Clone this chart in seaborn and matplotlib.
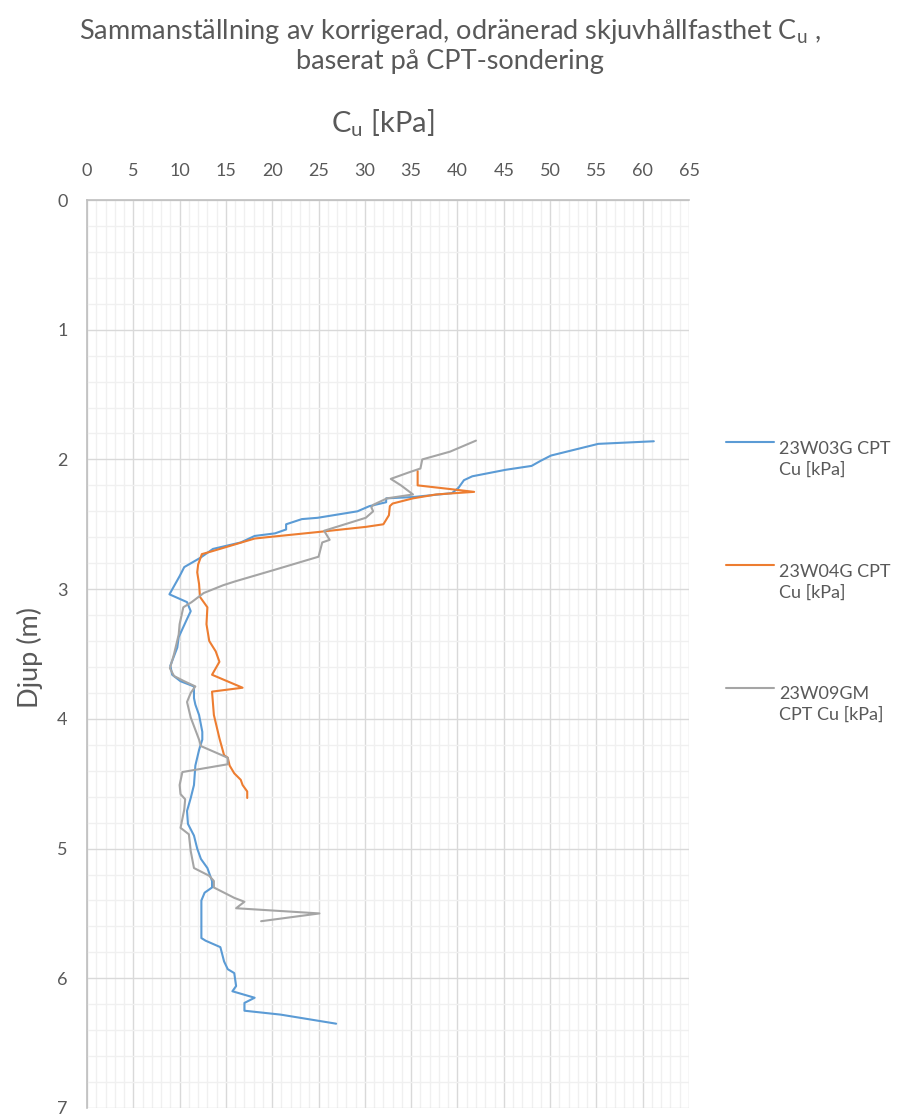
import numpy as np
import pandas as pd
import matplotlib
matplotlib.use("Agg")
import matplotlib.pyplot as plt
import seaborn as sns
from matplotlib.ticker import MultipleLocator
from matplotlib.lines import Line2D
from matplotlib.legend_handler import HandlerLine2D

# ---- data ----
w03_cu = [61.2, 55.2, 51.8, 50.1, 49.0, 48.0, 45.2, 41.6, 40.7, 40.1, 39.4, 35.2, 32.3, 32.3,
          30.5, 29.2, 24.9, 23.2, 21.5, 21.5, 20.3, 18.1, 16.6, 13.6, 12.2, 10.5, 10.0, 8.9,
          10.8, 11.2, 10.8, 9.9, 9.75, 9.0, 9.2, 10.1, 11.55, 11.55, 11.7, 12.1, 12.45, 12.45,
          12.1, 11.7, 11.55, 11.2, 10.8, 10.9, 11.55, 11.9, 12.3, 13.0, 13.5, 13.5, 12.7,
          12.35, 12.35, 12.8, 14.4, 14.8, 15.2, 15.9, 16.1, 15.7, 18.1, 17.0, 17.0, 20.9, 26.9]
w03_depth = [1.86, 1.88, 1.94, 1.97, 2.01, 2.05, 2.08, 2.13, 2.16, 2.22, 2.26, 2.29, 2.30, 2.33,
             2.36, 2.40, 2.45, 2.46, 2.50, 2.54, 2.57, 2.59, 2.64, 2.69, 2.76, 2.83, 2.90, 3.04,
             3.10, 3.17, 3.23, 3.37, 3.45, 3.59, 3.66, 3.71, 3.75, 3.84, 3.89, 3.97, 4.10, 4.16,
             4.24, 4.36, 4.51, 4.61, 4.71, 4.81, 4.90, 5.00, 5.08, 5.15, 5.25, 5.30, 5.34,
             5.40, 5.69, 5.71, 5.76, 5.87, 5.93, 5.96, 6.06, 6.10, 6.15, 6.19, 6.25, 6.28, 6.35]

w04_cu = [35.7, 35.7, 39.4, 41.8, 37.7, 35.2, 33.0, 32.7, 32.6, 32.0, 30.1, 24.9, 19.4, 18.1,
          13.4, 12.4, 12.0, 11.9, 12.1, 12.2, 13.0, 12.9, 13.2, 13.9, 14.3, 13.5, 16.8, 13.5,
          13.7, 14.3, 14.8, 15.2, 15.4, 15.9, 16.6, 16.8, 17.3, 17.3]
w04_depth = [2.09, 2.20, 2.23, 2.25, 2.27, 2.30, 2.34, 2.36, 2.43, 2.50, 2.52, 2.56, 2.60, 2.61,
             2.71, 2.73, 2.81, 2.87, 2.96, 3.06, 3.14, 3.27, 3.40, 3.48, 3.56, 3.66, 3.76, 3.79,
             3.97, 4.15, 4.28, 4.30, 4.36, 4.42, 4.47, 4.51, 4.56, 4.61]

w09_cu = [42.0, 39.2, 37.7, 36.2, 36.0, 34.75, 32.8, 33.9, 35.2, 32.4, 30.9, 30.7, 30.9, 30.1,
          25.6, 26.2, 25.4, 25.0, 20.3, 16.0, 14.7, 12.6, 11.3, 10.4, 10.0, 9.9, 9.4, 8.95,
          9.4, 10.5, 11.7, 11.2, 10.8, 11.2, 12.1, 12.3, 15.2, 15.2, 10.3, 10.0, 10.1, 10.6,
          10.5, 10.1, 11.0, 11.2, 11.55, 13.2, 13.7, 13.7, 15.9, 17.0, 16.1, 25.1, 18.8]
w09_depth = [1.855, 1.94, 1.97, 2.00, 2.07, 2.10, 2.15, 2.20, 2.27, 2.30, 2.35, 2.37, 2.40, 2.45,
             2.55, 2.62, 2.64, 2.75, 2.85, 2.94, 2.97, 3.03, 3.10, 3.14, 3.27, 3.35, 3.50, 3.61,
             3.67, 3.71, 3.75, 3.80, 3.87, 3.99, 4.16, 4.21, 4.30, 4.35, 4.41, 4.51, 4.58, 4.62,
             4.70, 4.84, 4.89, 5.02, 5.15, 5.21, 5.25, 5.30, 5.38, 5.41, 5.46, 5.50, 5.56]

series_names = ["23W03G CPT\nCu [kPa]", "23W04G CPT\nCu [kPa]", "23W09GM\nCPT Cu [kPa]"]
colors = ["#5B9BD5", "#ED7D31", "#A5A5A5"]

title_text = "Sammanställning av korrigerad, odränerad skjuvhållfasthet C$_\\mathregular{u}$ ,\nbaserat på CPT-sondering"
xlabel_text = "C$_\\mathregular{u}$ [kPa]"
ylabel_text = "Djup (m)"

df = pd.concat([
    pd.DataFrame({"cu": w03_cu, "depth": w03_depth, "series": series_names[0]}),
    pd.DataFrame({"cu": w04_cu, "depth": w04_depth, "series": series_names[1]}),
    pd.DataFrame({"cu": w09_cu, "depth": w09_depth, "series": series_names[2]}),
], ignore_index=True)

sns.set_style("white")
plt.rcParams["font.family"] = ["Lato", "DejaVu Sans"]
plt.rcParams["mathtext.fontset"] = "custom"
plt.rcParams["mathtext.rm"] = "Lato"

TXT = "#595959"
fig = plt.figure(figsize=(9.02, 11.19), dpi=100)
ax = fig.add_axes([87/902, 1 - 1108/1119, (689-87)/902, (1108-200)/1119])

sns.lineplot(data=df, x="cu", y="depth", hue="series", palette=colors, sort=False,
             estimator=None, ax=ax, linewidth=1.5, legend=False)

ax.set_xlim(0, 65)
ax.set_ylim(7, 0)
ax.xaxis.set_major_locator(MultipleLocator(5))
ax.xaxis.set_minor_locator(MultipleLocator(1))
ax.yaxis.set_major_locator(MultipleLocator(1))
ax.yaxis.set_minor_locator(MultipleLocator(0.2))
ax.grid(True, which="minor", color="#F0F0F0", linewidth=1.0, zorder=0)
ax.grid(True, which="major", color="#D9D9D9", linewidth=1.0, zorder=0)
ax.set_axisbelow(True)
ax.xaxis.tick_top()
ax.xaxis.set_label_position("top")
ax.tick_params(axis="both", which="both", length=0, labelsize=13, labelcolor=TXT)
ax.tick_params(axis="x", pad=15)
ax.tick_params(axis="y", pad=14)
for s in ["right", "bottom"]:
    ax.spines[s].set_visible(False)
for s in ["left", "top"]:
    ax.spines[s].set_color("#BFBFBF")
    ax.spines[s].set_linewidth(1.2)

ax.set_xlabel(xlabel_text, fontsize=21, color=TXT)
ax.set_ylabel(ylabel_text, fontsize=19.5, color=TXT)
ax.xaxis.set_label_coords((383-87)/(689-87), 1 + (200-123)/908)
ax.yaxis.set_label_coords(-(87-30)/602, (1108-657)/908)
ax.xaxis.label.set_va("center")
ax.yaxis.label.set_va("center")

fig.text(450/902, 1 - 45/1119, title_text, ha="center", va="center", fontsize=19.5,
         color=TXT, linespacing=1.15)


class FirstLineHandler(HandlerLine2D):
    def create_artists(self, legend, orig_handle, xdescent, ydescent, width, height,
                       fontsize, trans):
        arts = super().create_artists(legend, orig_handle, xdescent, ydescent, width,
                                      height, fontsize, trans)
        for a in arts:
            a.set_ydata(np.asarray(a.get_ydata()) + 0.95 * fontsize)
        return arts


handles = [Line2D([], [], color=c, linewidth=1.5) for c in colors]
leg = fig.legend(handles, series_names, loc="upper left",
                 bbox_to_anchor=(717/902, 1 - 432/1119),
                 frameon=False, fontsize=13, labelcolor=TXT, handlelength=2.65,
                 handletextpad=0.28, labelspacing=4.75, borderpad=0,
                 handler_map={Line2D: FirstLineHandler()})
for t in leg.get_texts():
    t.set_linespacing(1.35)

fig.savefig("out.png", dpi=100)
